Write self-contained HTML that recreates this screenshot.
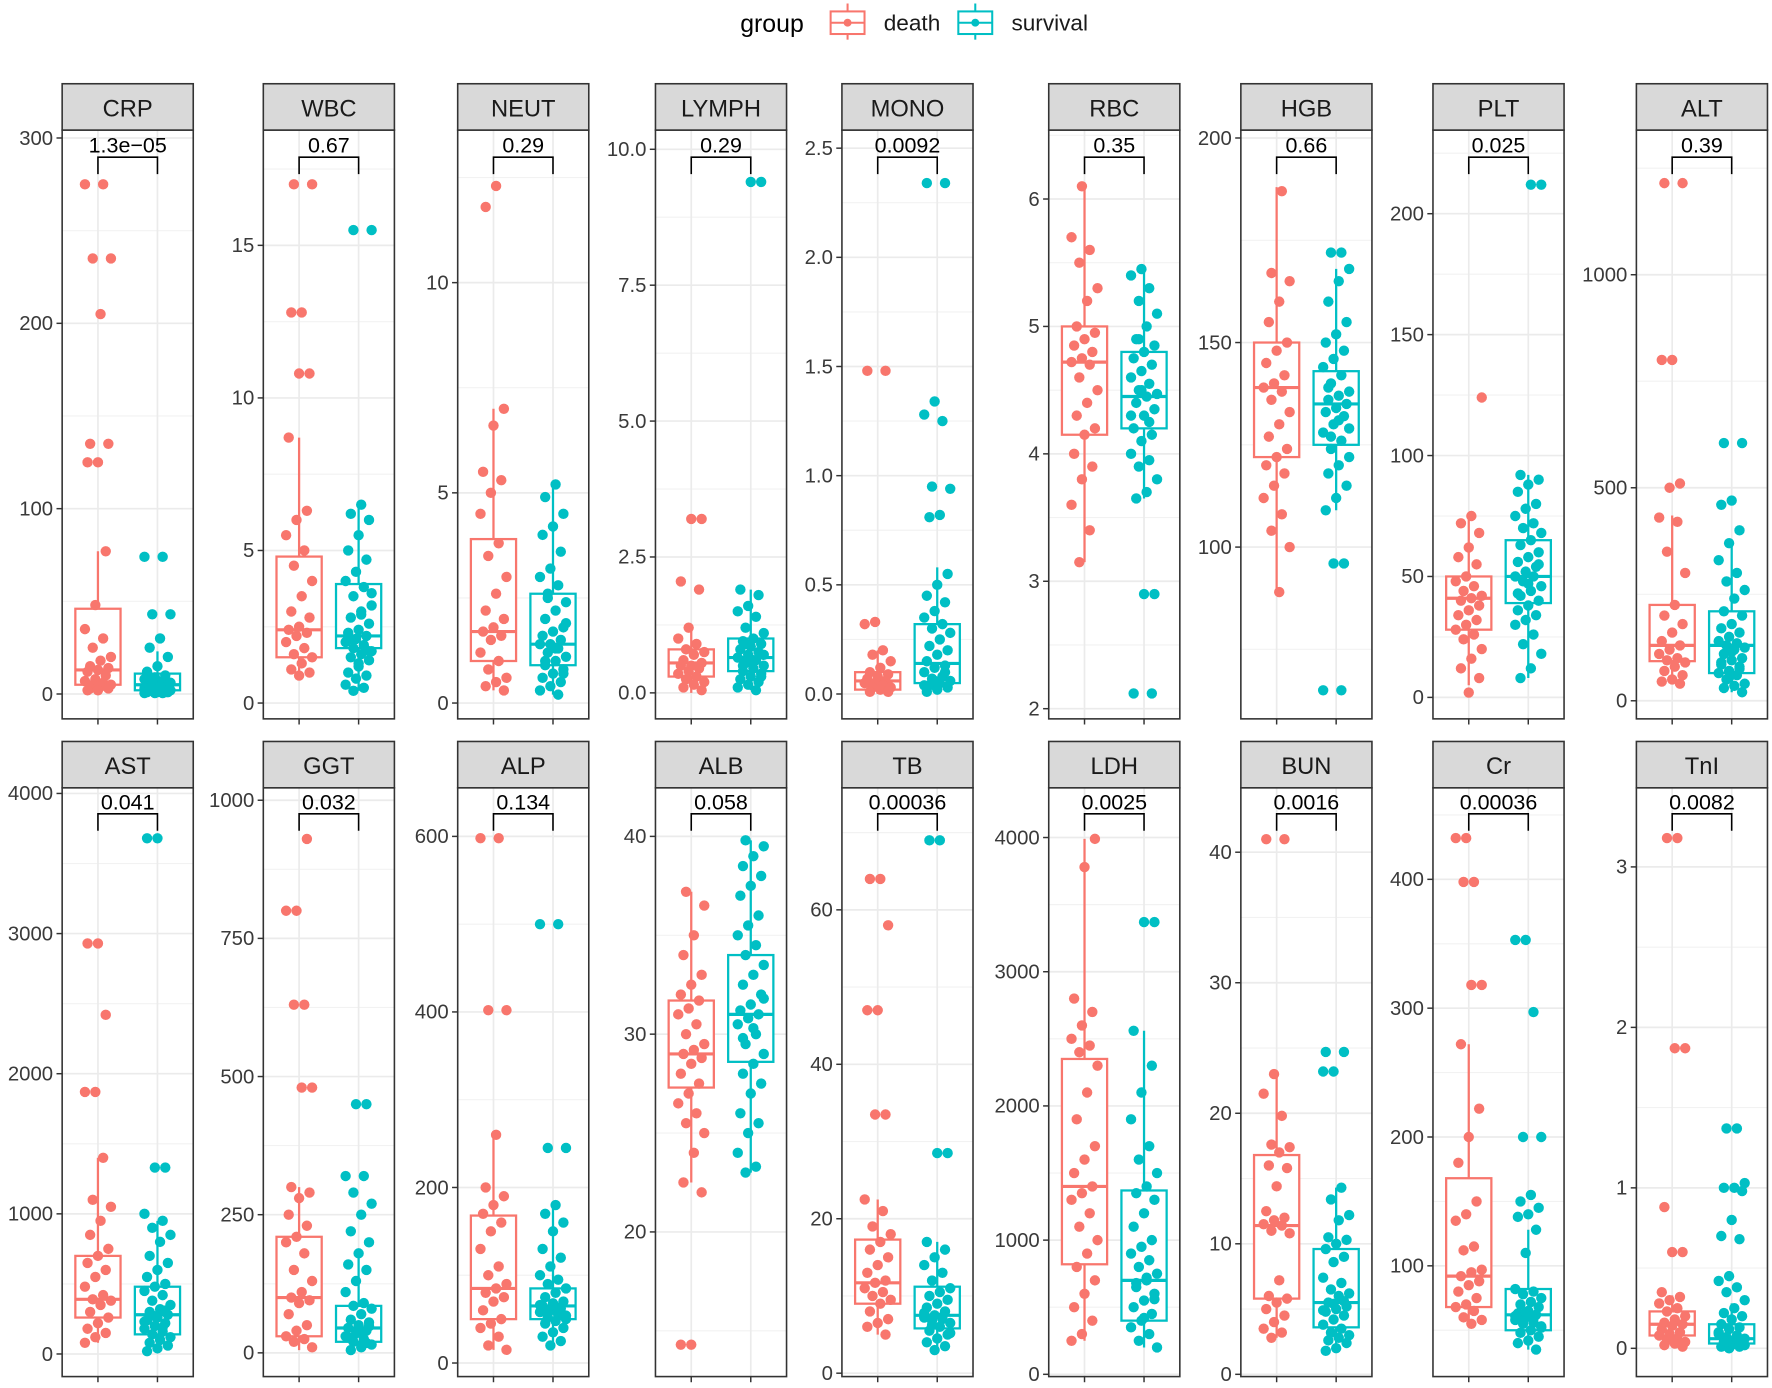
<!DOCTYPE html>
<html><head><meta charset="utf-8">
<style>
html,body{margin:0;padding:0;background:#fff;}
svg{display:block;font-family:"Liberation Sans",Arial,sans-serif;}
</style></head>
<body>
<svg id="chart" width="1772" height="1388" viewBox="0 0 1568 1228" xmlns="http://www.w3.org/2000/svg">
<rect x="0" y="0" width="1568" height="1228" fill="#fff"/>
<g id="legend">
  <text x="655" y="28" font-size="22" fill="#000">group</text>
  <g>
    <line x1="750" y1="3" x2="750" y2="35" stroke="#F8766D" stroke-width="1.8"/>
    <rect x="735" y="10" width="30" height="20" fill="#fff" stroke="#F8766D" stroke-width="1.8"/>
    <line x1="735" y1="20" x2="765" y2="20" stroke="#F8766D" stroke-width="1.8"/>
    <circle cx="750" cy="20" r="3.5" fill="#F8766D"/>
    <text x="782" y="27" font-size="20" fill="#1a1a1a">death</text>
  </g>
  <g>
    <line x1="863" y1="3" x2="863" y2="35" stroke="#00BFC4" stroke-width="1.8"/>
    <rect x="848" y="10" width="30" height="20" fill="#fff" stroke="#00BFC4" stroke-width="1.8"/>
    <line x1="848" y1="20" x2="878" y2="20" stroke="#00BFC4" stroke-width="1.8"/>
    <circle cx="863" cy="20" r="3.5" fill="#00BFC4"/>
    <text x="895" y="27" font-size="20" fill="#1a1a1a">survival</text>
  </g>
</g>
<g id="panels"></g>
</svg>
<script>
// ---------- DATA ----------
const panelNames = ["CRP","WBC","NEUT","LYMPH","MONO","RBC","HGB","PLT","ALT","AST","GGT","ALP","ALB","TB","LDH","BUN","Cr","TnI"];
const pValues = ["1.3e\u221205","0.67","0.29","0.29","0.0092","0.35","0.66","0.025","0.39","0.041","0.032","0.134","0.058","0.00036","0.0025","0.0016","0.00036","0.0082"];
const groups = ["death","survival"];
// box stats: [lower whisker, q1, median, q3, upper whisker]
const deathBox = [
 [1,5,13,46,77],[0.8,1.5,2.4,4.8,8.7],[0.3,1.0,1.7,3.9,7.0],[0,0.3,0.55,0.8,1.2],[0,0.02,0.06,0.1,0.2],
 [3.15,4.15,4.72,5.0,6.1],[89,122,139,150,188],[5,28,41,50,75],[40,93,130,225,435],
 [80,260,390,700,1400],[5,30,100,210,300],[15,50,85,168,260],[22.5,27.3,29,31.7,37.2],[5,9,11.7,17.3,22.5],
 [250,820,1400,2350,3990],[2.8,5.8,11.4,16.8,23],[55,68,92,168,272],[0.01,0.08,0.15,0.23,0.33]];
const survivalBox = [
 [0,2,5,11,23],[0.4,1.8,2.2,3.9,6.5],[0.2,0.9,1.4,2.6,5.2],[0.05,0.4,0.65,1.0,1.9],[0,0.05,0.14,0.32,0.58],
 [3.65,4.2,4.45,4.8,5.45],[109,125,135,143,168],[8,39,50,65,92],[20,65,130,210,370],
 [20,140,280,480,950],[5,20,45,85,180],[20,50,65,85,180],[23,28.6,31,34,39.8],[3,5.8,7.5,11.2,17],
 [200,400,700,1370,2560],[1.8,3.6,5.5,9.6,14.3],[35,50,62,82,128],[0,0.03,0.06,0.15,0.28]];
const deathPts = [
 [275,275,235,235,205,135,135,125,125,77,48,35,30,25,20,18,15,14,13,12,10,8,7,6,5,5,4,3,3,2,2],
 [17,17,12.8,12.8,10.8,10.8,8.7,6.3,6.0,5.5,5.0,4.5,4.0,3.5,3.0,2.8,2.5,2.4,2.3,2.2,2.0,1.8,1.6,1.5,1.3,1.1,1.0,0.9],
 [12.3,11.8,7.0,6.6,5.5,5.3,5.0,4.5,3.8,3.5,3.0,2.6,2.2,2.0,1.8,1.7,1.6,1.5,1.2,1.0,0.8,0.6,0.5,0.4,0.3],
 [3.2,3.2,2.05,1.9,1.2,1.0,0.9,0.8,0.75,0.7,0.6,0.55,0.5,0.5,0.45,0.4,0.35,0.3,0.25,0.2,0.15,0.1,0.05],
 [1.48,1.48,0.33,0.32,0.2,0.18,0.15,0.12,0.1,0.09,0.08,0.07,0.06,0.05,0.05,0.04,0.03,0.03,0.02,0.01,0.01],
 [6.1,5.7,5.6,5.5,5.3,5.2,5.0,4.95,4.9,4.85,4.8,4.75,4.72,4.7,4.6,4.5,4.4,4.3,4.2,4.15,4.0,3.9,3.8,3.6,3.4,3.15],
 [187,167,165,160,155,150,148,145,142,140,139,138,136,133,130,127,124,122,120,118,115,112,108,104,100,89],
 [124,75,72,68,62,58,55,50,48,46,44,42,41,40,38,36,34,32,30,28,26,24,20,16,12,8,2],
 [1215,1215,800,800,510,500,430,420,350,300,225,200,180,160,140,130,120,110,100,95,90,80,70,60,50,45,40],
 [2930,2930,2420,1870,1870,1400,1100,1050,950,850,750,700,650,600,550,480,420,390,380,350,300,260,220,180,150,120,80],
 [930,800,800,630,630,480,480,300,290,280,250,230,210,200,180,150,130,110,100,95,90,70,50,40,30,25,20,10],
 [598,598,402,402,260,200,190,180,170,160,150,130,110,100,90,85,80,75,70,60,50,45,40,30,20,15],
 [37.2,36.5,35,34,33,32.5,32,31.7,31.3,31,30.5,30,29.5,29.2,29,28.8,28.5,28,27.5,27,26.5,26,25.5,25,24,22.5,22,14.3,14.3],
 [64,64,58,47,47,33.5,33.5,22.5,21,19,18,17,16,15,14,13,12,11.7,11,10.5,10,9.5,9,8,7,6.5,6,5],
 [3990,3780,2800,2700,2600,2500,2450,2400,2300,2100,1900,1700,1600,1500,1400,1350,1300,1200,1100,1000,900,800,700,600,500,400,300,250],
 [41,41,23,21.5,19.8,17.6,17.4,17,16,15.8,14.4,12.5,12,11.8,11.5,11.4,11,10.8,7.2,6,5.8,5.5,5,4.5,4,3.5,3.2,2.8],
 [432,432,398,398,318,318,272,222,200,180,150,140,135,115,112,97,95,92,88,85,80,75,70,68,65,60,58,55],
 [3.18,3.18,1.87,1.87,0.88,0.6,0.6,0.35,0.32,0.3,0.28,0.25,0.23,0.2,0.18,0.16,0.15,0.14,0.12,0.1,0.09,0.08,0.06,0.05,0.04,0.03,0.02,0.01]];
const survivalPts = [
 [74,74,43,43,30,25,20,15,12,10,9,8,7,6,6,5,5,5,4,4,4,3,3,3,2,2,2,2,1,1,1,1,0.5,0.5,0.5,8,6,4,3,2],
 [15.5,15.5,6.5,6.2,6.0,5.5,5.0,4.7,4.3,4.0,3.8,3.5,3.2,3.0,2.8,2.6,2.4,2.3,2.2,2.1,2.0,1.9,1.8,1.7,1.6,1.5,1.4,1.2,1.0,0.9,0.8,0.6,0.5,0.4,3.6,2.9,2.1,1.7,1.3],
 [5.2,4.9,4.5,4.2,4.0,3.6,3.2,3.0,2.8,2.6,2.4,2.2,2.0,1.8,1.7,1.6,1.5,1.4,1.4,1.3,1.2,1.1,1.0,0.9,0.8,0.7,0.6,0.5,0.4,0.3,0.2,2.5,1.9,1.3,1.0,0.7],
 [9.4,9.4,1.9,1.8,1.6,1.5,1.4,1.2,1.1,1.0,0.95,0.9,0.85,0.8,0.75,0.7,0.65,0.6,0.55,0.5,0.45,0.4,0.35,0.3,0.25,0.2,0.15,0.1,0.05,0.9,0.7,0.6,0.5,0.3],
 [2.34,2.34,1.34,1.28,1.25,0.95,0.94,0.82,0.81,0.55,0.5,0.45,0.42,0.38,0.35,0.32,0.3,0.28,0.25,0.22,0.2,0.18,0.15,0.13,0.12,0.1,0.08,0.07,0.06,0.05,0.04,0.03,0.02,0.01,0.1,0.06,0.04],
 [5.45,5.4,5.3,5.2,5.1,5.0,4.9,4.85,4.8,4.75,4.7,4.65,4.6,4.55,4.5,4.47,4.45,4.4,4.35,4.3,4.2,4.15,4.1,4.0,3.95,3.9,3.8,3.7,3.65,2.9,2.9,2.12,2.12,4.5,4.3,4.25,4.9],
 [172,172,168,165,160,155,152,150,148,146,144,142,140,138,137,136,135,134,133,132,130,128,126,124,122,120,118,115,112,109,96,96,65,65,127,129,131,139],
 [212,212,92,90,88,85,80,78,75,72,70,68,65,63,60,58,56,54,52,50,50,48,46,44,42,40,38,36,34,32,30,26,22,18,12,8,55,47,43],
 [605,605,470,460,400,370,330,300,280,260,240,210,200,180,170,160,150,140,135,130,125,120,110,100,95,90,80,70,65,60,50,40,35,30,20,115,85,75,55],
 [3680,3680,1330,1330,1000,950,900,850,800,700,650,600,550,500,480,450,420,380,350,320,300,280,260,240,220,200,180,160,140,120,100,80,60,40,20,310,270,230,190],
 [450,450,320,320,290,270,250,220,200,180,160,150,130,110,90,85,80,70,60,55,50,45,40,35,30,25,20,15,10,5,48,38,28,18],
 [500,500,245,245,180,170,160,150,130,120,110,100,95,90,85,80,75,70,68,65,62,60,58,55,52,50,48,45,40,35,30,25,20,66,63,57,54],
 [39.8,39.5,39,38.5,38,37.5,37,36,35.5,35,34.5,34,33.5,33,32.5,32,31.5,31.2,31,30.8,30.5,30,29.5,29,28.5,28,27.5,27,26,25.5,25,24,23.3,23,31.8,30.3,29.8],
 [69,69,28.5,28.5,17,16,15,14,13,12,11,10.5,10,9.5,9,8.5,8,7.5,7.2,7,6.8,6.5,6,5.5,5,4.5,4,3.5,3,7.8,7.3,6.2,5.2],
 [3370,3370,2560,2300,2100,1900,1700,1600,1500,1400,1350,1300,1200,1100,1000,950,900,850,800,750,700,650,600,550,500,450,400,350,300,250,200,720,680,560,420],
 [24.7,24.7,23.2,23.2,14.3,13.4,12.2,11.8,10.5,10.3,10,9.6,9,8.6,7.4,7,6.5,6.2,6,5.5,5.2,5,4.8,4.5,4.2,3.8,3.5,3.2,3,2.8,2.6,2.4,2,1.8,5.6,5.4,4.9],
 [353,353,297,200,200,155,150,145,140,138,128,110,82,80,78,75,72,70,68,65,63,62,60,58,56,55,52,50,48,45,42,40,35,64,61,59,57,53],
 [1.37,1.37,1.03,1.0,1.0,0.98,0.8,0.7,0.68,0.45,0.42,0.38,0.35,0.3,0.25,0.22,0.2,0.18,0.15,0.13,0.12,0.1,0.08,0.07,0.06,0.05,0.04,0.03,0.02,0.01,0.01,0.0,0.09,0.06,0.04,0.02]];
const tickStep = [100,5,5,2.5,0.5,1,50,50,500,1000,250,200,10,20,1000,10,100,1];
const tickDecimals = [0,0,0,1,1,0,0,0,0,0,0,0,0,0,0,0,0,0];

// ---------- AXIS CALIBRATION (layout) ----------
const axisCal = [
 [0,614,300,122],[0,622,15,217],[0,622,10,250],[0,613,10,132],[0,614,2.5,131],
 [2,627,6,176],[100,484,200,122],[0,617,200,189],[0,620,1000,243],
 [0,1198,4000,702],[0,1197,1000,708],[0,1206,600,740],[20,1090,40,740],[0,1215,60,805],
 [0,1216,4000,741],[0,1216,40,754],[100,1120,400,778],[0,1193,3,767]];
const colLeft = [55,233,405,580,745,928,1098,1268,1448];
const PW = 116;
const COLORS = ["#F8766D","#00BFC4"];
const NS = "http://www.w3.org/2000/svg";

function mk(tag, attrs, parent){
  const e = document.createElementNS(NS, tag);
  for (const k in attrs) e.setAttribute(k, attrs[k]);
  parent.appendChild(e);
  return e;
}

const root = document.getElementById("panels");

panelNames.forEach((name, p) => {
  const row = p < 9 ? 0 : 1;
  const left = colLeft[p % 9];
  const stripTop = row === 0 ? 74 : 656;
  const top = stripTop + 41;
  const bottom = row === 0 ? 636 : 1218;
  const cal = axisCal[p];
  const yScale = v => cal[1] + (v - cal[0]) * (cal[3] - cal[1]) / (cal[2] - cal[0]);
  const yInv = py => cal[0] + (py - cal[1]) * (cal[2] - cal[0]) / (cal[3] - cal[1]);
  const xScale = g => left + PW * (g === 0 ? 0.273 : 0.727);

  const g = mk("g", {}, root);
  
  

  const cid = "clip" + p;
  const cp = mk("clipPath", {id: cid}, g);
  mk("rect", {x: left, y: top, width: PW, height: bottom - top}, cp);
  const inner = mk("g", {"clip-path": "url(#" + cid + ")"}, g);

  const step = tickStep[p];
  const vTop = yInv(top), vBot = yInv(bottom);
  const startK = Math.floor(Math.min(vTop, vBot) / step) - 1;
  const endK = Math.ceil(Math.max(vTop, vBot) / step) + 1;
  const axisG = mk("g", {}, g);
  
  
  for (let k = startK; k <= endK; k++) {
    const v = k * step;
    const ym = yScale(v + step / 2);
    if (ym > top && ym < bottom) {
      mk("line", {x1: left, x2: left + PW, y1: ym, y2: ym, stroke: "#F2F2F2", "stroke-width": 1}, inner);
    }
    const y = yScale(v);
    if (y >= top && y <= bottom) {
      mk("line", {x1: left, x2: left + PW, y1: y, y2: y, stroke: "#EBEBEB", "stroke-width": 1.5}, inner);
      mk("line", {x1: left - 5, x2: left, y1: y, y2: y, stroke: "#333", "stroke-width": 1.3}, axisG);
      const t = mk("text", {x: left - 8, y: y + 6, "text-anchor": "end", "font-size": 18, fill: "#3a3a3a"}, axisG);
      t.textContent = v.toFixed(tickDecimals[p]);
      
      
    }
  }
  [0, 1].forEach(gi => {
    const x = xScale(gi);
    mk("line", {x1: x, x2: x, y1: top, y2: bottom, stroke: "#EBEBEB", "stroke-width": 1.5}, inner);
    const tk = mk("line", {x1: x, x2: x, y1: bottom, y2: bottom + 5, stroke: "#333", "stroke-width": 1.3}, g);
    
    
  });

  const boxes = [deathBox[p], survivalBox[p]];
  const pts = [deathPts[p], survivalPts[p]];
  [0, 1].forEach(gi => {
    const b = boxes[gi], x = xScale(gi), c = COLORS[gi], bw = 40;
    const bg = mk("g", {}, inner);
    
    
    mk("line", {x1: x, x2: x, y1: yScale(b[0]), y2: yScale(b[1]), stroke: c, "stroke-width": 2}, bg);
    mk("line", {x1: x, x2: x, y1: yScale(b[3]), y2: yScale(b[4]), stroke: c, "stroke-width": 2}, bg);
    const yq3 = yScale(b[3]), yq1 = yScale(b[1]);
    mk("rect", {x: x - bw / 2, y: Math.min(yq1, yq3), width: bw, height: Math.abs(yq1 - yq3), fill: "#fff", stroke: c, "stroke-width": 2}, bg);
    mk("line", {x1: x - bw / 2, x2: x + bw / 2, y1: yScale(b[2]), y2: yScale(b[2]), stroke: c, "stroke-width": 2.8}, bg);
  });
  [0, 1].forEach(gi => {
    const x = xScale(gi), c = COLORS[gi];
    const pg = mk("g", {}, inner);
    
    
    pts[gi].forEach((v, i) => {
      const jit = (((i * 7 + p * 3) % 11) - 5) * 2.3;
      const c1 = mk("circle", {cx: x + jit, cy: yScale(v), r: 4.6, fill: c}, pg);
      
      
    });
  });

  const sigTop = row === 0 ? 139 : 720;
  const x0 = xScale(0), x1 = xScale(1);
  const br = mk("path", {d: `M${x0},${sigTop + 15}V${sigTop}H${x1}V${sigTop + 15}`, fill: "none", stroke: "#000", "stroke-width": 1.4}, g);
  
  
  const pt = mk("text", {x: (x0 + x1) / 2, y: sigTop - 4, "text-anchor": "middle", "font-size": 19, fill: "#000"}, g);
  pt.textContent = pValues[p];
  
  

  mk("rect", {x: left, y: top, width: PW, height: bottom - top, fill: "none", stroke: "#333", "stroke-width": 1.4}, g);
  const st = mk("rect", {x: left, y: stripTop, width: PW, height: 41, fill: "#D9D9D9", stroke: "#333", "stroke-width": 1.4}, g);
  
  
  const stt = mk("text", {x: left + PW / 2, y: stripTop + 29, "text-anchor": "middle", "font-size": 21, fill: "#1a1a1a"}, g);
  stt.textContent = name;
  
  
});
</script>
</body></html>
